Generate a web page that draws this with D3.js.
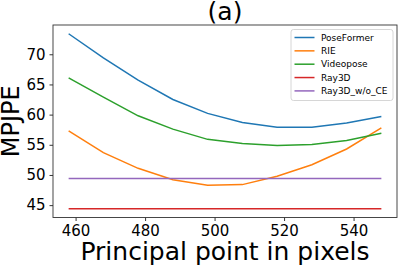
<!DOCTYPE html>
<html>
<head>
<meta charset="utf-8">
<script src="https://cdn.jsdelivr.net/npm/d3@7"></script>
<style>
  body { margin: 0; background: #fff; }
  svg { display: block; font-family: "DejaVu Sans", sans-serif; }
</style>
</head>
<body>
<script>
var w = 399; // Width of the chart
var h = 266; // Height of the chart

// Data
var principalPoints = [458, 468, 478, 488, 498, 508, 518, 528, 538, 548];
var poseFormer = [73.4, 69.4, 65.7, 62.5, 60.2, 58.7, 57.9, 57.9, 58.6, 59.7];
var rie = [57.3, 53.7, 51.1, 49.2, 48.3, 48.4, 49.8, 51.7, 54.3, 57.8];
var videopose = [66.1, 62.9, 59.8, 57.6, 55.9, 55.2, 54.9, 55.05, 55.7, 56.9];
var ray3d = [44.4, 44.4, 44.4, 44.4, 44.4, 44.4, 44.4, 44.4, 44.4, 44.4];
var ray3dNoCE = [49.4, 49.4, 49.4, 49.4, 49.4, 49.4, 49.4, 49.4, 49.4, 49.4];
var seriesNames = ["PoseFormer", "RIE", "Videopose", "Ray3D", "Ray3D_w/o_CE"];
var xTicks = [460, 480, 500, 520, 540];
var yTicks = [45, 50, 55, 60, 65, 70];

var seriesValues = [poseFormer, rie, videopose, ray3d, ray3dNoCE];
var colors = ["#1f77b4", "#ff7f0e", "#2ca02c", "#d62728", "#9467bd"];

var margin = { left: 53, right: 2, top: 25, bottom: 48.5 };

var xScale = d3.scaleLinear()
    .domain([453.5, 552.5])
    .range([margin.left, w - margin.right]);

var yScale = d3.scaleLinear()
    .domain([42.95, 74.85])
    .range([h - margin.bottom, margin.top]);

var svg = d3.select("body")
    .append("svg")
    .attr("width", w)
    .attr("height", h);

// Axes
var xAxis = d3.axisBottom(xScale)
    .tickValues(xTicks)
    .tickSize(3.5)
    .tickPadding(4)
    .tickFormat(d3.format("d"));

var yAxis = d3.axisLeft(yScale)
    .tickValues(yTicks)
    .tickSize(3.5)
    .tickPadding(4)
    .tickFormat(d3.format("d"));

var gx = svg.append("g")
    .attr("transform", "translate(0," + (h - margin.bottom) + ")")
    .call(xAxis);

var gy = svg.append("g")
    .attr("transform", "translate(" + margin.left + ",0)")
    .call(yAxis);

[gx, gy].forEach(function(g) {
    g.select(".domain").remove();
    g.selectAll(".tick line").attr("stroke", "#000").attr("stroke-width", 0.8);
    g.selectAll(".tick text")
        .attr("fill", "#000")
        .style("font-size", "15px")
        .style("font-family", "DejaVu Sans");
});

// Lines
var line = d3.line()
    .x(function(d, i) { return xScale(principalPoints[i]); })
    .y(function(d) { return yScale(d); });

svg.append("g")
    .selectAll("path")
    .data(seriesValues)
    .join("path")
    .attr("d", line)
    .attr("fill", "none")
    .attr("stroke", function(d, i) { return colors[i]; })
    .attr("stroke-width", 1.5);

// Frame
svg.append("rect")
    .attr("x", margin.left)
    .attr("y", margin.top)
    .attr("width", w - margin.right - margin.left)
    .attr("height", h - margin.bottom - margin.top)
    .attr("fill", "none")
    .attr("stroke", "#333")
    .attr("stroke-width", 0.9);

// Legend
var legend = svg.append("g")
    .attr("transform", "translate(291,29.5)");

legend.append("rect")
    .attr("width", 102)
    .attr("height", 71)
    .attr("rx", 2.5)
    .attr("fill", "#fff")
    .attr("fill-opacity", 0.8)
    .attr("stroke", "#ccc")
    .attr("stroke-width", 0.8);

var items = legend.selectAll("g.item")
    .data(seriesNames)
    .join("g")
    .attr("class", "item")
    .attr("transform", function(d, i) { return "translate(0," + (8 + i * 13.35) + ")"; });

items.append("line")
    .attr("x1", 3.5)
    .attr("x2", 23.5)
    .attr("stroke", function(d, i) { return colors[i]; })
    .attr("stroke-width", 1.5);

items.append("text")
    .attr("x", 30)
    .attr("dy", "0.35em")
    .style("font-size", "9px")
    .text(function(d) { return d; });

// Title and labels
svg.append("text")
    .attr("x", (margin.left + w - margin.right) / 2)
    .attr("y", 20)
    .attr("text-anchor", "middle")
    .style("font-size", "25px")
    .text("(a)");

svg.append("text")
    .attr("x", (margin.left + w - margin.right) / 2)
    .attr("y", 260)
    .attr("text-anchor", "middle")
    .style("font-size", "25px")
    .text("Principal point in pixels");

svg.append("text")
    .attr("transform", "rotate(-90)")
    .attr("x", -(margin.top + h - margin.bottom) / 2)
    .attr("y", 19)
    .attr("text-anchor", "middle")
    .style("font-size", "24px")
    .text("MPJPE");
</script>
</body>
</html>
